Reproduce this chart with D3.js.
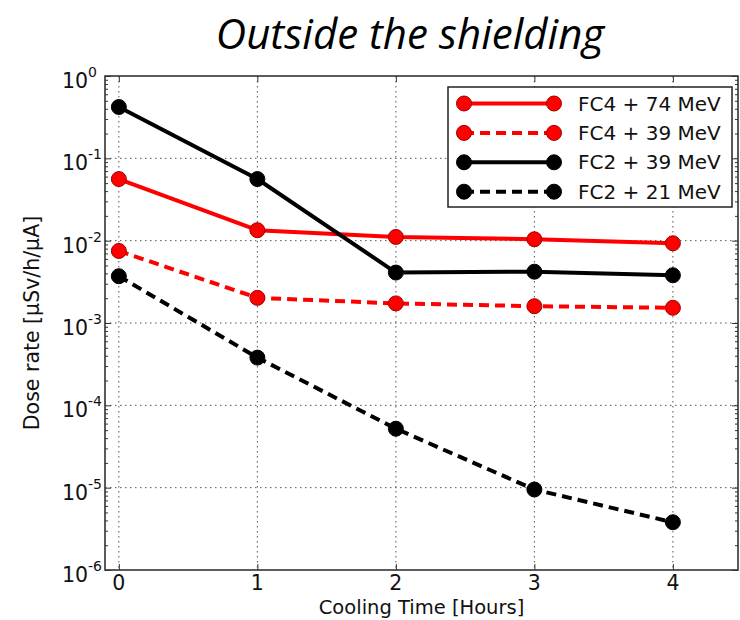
<!DOCTYPE html>
<html>
<head>
<meta charset="utf-8">
<script src="https://cdn.jsdelivr.net/npm/d3@7"></script>
<style>
  body { margin: 0; background: #fff; }
  text { font-family: "DejaVu Sans", sans-serif; fill: #111; }
</style>
</head>
<body>
<div class="chart"></div>
<script>
// cooling time (hours) and dose rate per series
var hours = [0, 1, 2, 3, 4];
var fc4_74 = [0.056, 0.0134, 0.0111, 0.0104, 0.0093];
var fc4_39 = [0.0075, 0.00202, 0.00173, 0.0016, 0.00153];
var fc2_39 = [0.42, 0.056, 0.0041, 0.0042, 0.0038];
var fc2_21 = [0.0037, 0.00038, 0.000052, 0.0000095, 0.0000038];
var seriesNames = ["FC4 + 74 MeV", "FC4 + 39 MeV", "FC2 + 39 MeV", "FC2 + 21 MeV"];
var decades = [-6, -5, -4, -3, -2, -1, 0];
var xTicks = [0, 1, 2, 3, 4];

var series = [
  {name: seriesNames[0], values: fc4_74, color: "#ff0000", edge: "#a00000", dash: null},
  {name: seriesNames[1], values: fc4_39, color: "#ff0000", edge: "#a00000", dash: "10,6"},
  {name: seriesNames[2], values: fc2_39, color: "#000000", edge: "#000000", dash: null},
  {name: seriesNames[3], values: fc2_21, color: "#000000", edge: "#000000", dash: "10,6"}
];

var W = 740, H = 620;
var pLeft = 105, pRight = 738, pTop = 76, pBottom = 570;

var svg = d3.select(".chart").append("svg")
  .attr("width", W)
  .attr("height", H);

var x = d3.scaleLinear().domain([-0.1, 4.47]).range([pLeft, pRight]);
var y = d3.scaleLog().domain([1e-6, 1]).range([pBottom, pTop]);

// grid
svg.append("g").selectAll("line").data(xTicks).enter().append("line")
  .attr("x1", function(d) { return x(d); }).attr("x2", function(d) { return x(d); })
  .attr("y1", pTop).attr("y2", pBottom)
  .attr("stroke", "#555").attr("stroke-width", 1).attr("stroke-dasharray", "1.5,3.5");
svg.append("g").selectAll("line").data(decades.slice(1, -1)).enter().append("line")
  .attr("x1", pLeft).attr("x2", pRight)
  .attr("y1", function(d) { return y(Math.pow(10, d)); }).attr("y2", function(d) { return y(Math.pow(10, d)); })
  .attr("stroke", "#555").attr("stroke-width", 1).attr("stroke-dasharray", "1.5,3.5");

// minor ticks on the log axis
var minors = [];
decades.slice(0, -1).forEach(function(e) {
  for (var k = 2; k <= 9; k++) minors.push(k * Math.pow(10, e));
});
var majors = decades.map(function(e) { return Math.pow(10, e); });

function styleAxis(g) {
  g.select(".domain").remove();
  g.selectAll("line").attr("stroke", "#333").attr("stroke-width", 1);
  g.selectAll("text").remove();
}

svg.append("g").attr("transform", "translate(" + pLeft + ",0)")
  .call(d3.axisLeft(y).tickValues(majors).tickSize(-6)).call(styleAxis);
svg.append("g").attr("transform", "translate(" + pLeft + ",0)")
  .call(d3.axisLeft(y).tickValues(minors).tickSize(-3)).call(styleAxis);
svg.append("g").attr("transform", "translate(" + pRight + ",0)")
  .call(d3.axisRight(y).tickValues(majors).tickSize(-6)).call(styleAxis);
svg.append("g").attr("transform", "translate(" + pRight + ",0)")
  .call(d3.axisRight(y).tickValues(minors).tickSize(-3)).call(styleAxis);
svg.append("g").attr("transform", "translate(0," + pBottom + ")")
  .call(d3.axisBottom(x).tickValues(xTicks).tickSize(-6)).call(styleAxis);
svg.append("g").attr("transform", "translate(0," + pTop + ")")
  .call(d3.axisTop(x).tickValues(xTicks).tickSize(-6)).call(styleAxis);

// frame
svg.append("rect")
  .attr("x", pLeft).attr("y", pTop)
  .attr("width", pRight - pLeft).attr("height", pBottom - pTop)
  .attr("fill", "none").attr("stroke", "#333").attr("stroke-width", 1.6);

// y tick labels 10^n
svg.append("g").selectAll("text").data(decades).enter().append("text")
  .attr("x", 88).attr("y", function(d) { return y(Math.pow(10, d)) + 12; })
  .attr("text-anchor", "end")
  .style("font-size", "20.5px")
  .text("10");
svg.append("g").selectAll("text").data(decades).enter().append("text")
  .attr("x", 88).attr("y", function(d) { return y(Math.pow(10, d)) + 1; })
  .style("font-size", "14px")
  .text(function(d) { return d === 0 ? "0" : "-" + Math.abs(d); });

// x tick labels
svg.append("g").selectAll("text").data(xTicks).enter().append("text")
  .attr("x", function(d) { return x(d); }).attr("y", 590)
  .attr("text-anchor", "middle")
  .style("font-size", "20.5px")
  .text(function(d) { return d; });

// axis titles
svg.append("text")
  .attr("x", (pLeft + pRight) / 2).attr("y", 614)
  .attr("text-anchor", "middle")
  .style("font-size", "19.5px")
  .text("Cooling Time [Hours]");
svg.append("text")
  .attr("transform", "translate(39," + ((pTop + pBottom) / 2) + ") rotate(-90)")
  .attr("text-anchor", "middle")
  .style("font-size", "20.5px")
  .text("Dose rate [\u00b5Sv/h/\u00b5A]");

// title
svg.append("text")
  .attr("x", 410).attr("y", 49)
  .attr("text-anchor", "middle")
  .style("font-family", "'Open Sans', sans-serif")
  .style("font-style", "italic")
  .style("font-size", "42px")
  .style("fill", "#000")
  .text("Outside the shielding");

// series
var line = d3.line()
  .x(function(d, i) { return x(hours[i]); })
  .y(function(d) { return y(d); });

series.forEach(function(s) {
  svg.append("path")
    .attr("d", line(s.values))
    .attr("fill", "none")
    .attr("stroke", s.color)
    .attr("stroke-width", 4)
    .attr("stroke-dasharray", s.dash);
  svg.append("g").selectAll("circle").data(s.values).enter().append("circle")
    .attr("cx", function(d, i) { return x(hours[i]); })
    .attr("cy", function(d) { return y(d); })
    .attr("r", 7.5)
    .attr("fill", s.color)
    .attr("stroke", s.edge)
    .attr("stroke-width", 1);
});

// legend
var lg = svg.append("g");
lg.append("rect")
  .attr("x", 448).attr("y", 87).attr("width", 284).attr("height", 120)
  .attr("fill", "#fff").attr("stroke", "#222").attr("stroke-width", 1.5);
series.forEach(function(s, i) {
  var ly = 103.5 + i * 29.4;
  lg.append("line")
    .attr("x1", 464).attr("x2", 554).attr("y1", ly).attr("y2", ly)
    .attr("stroke", s.color).attr("stroke-width", 4)
    .attr("stroke-dasharray", s.dash);
  [464, 554].forEach(function(cx) {
    lg.append("circle")
      .attr("cx", cx).attr("cy", ly).attr("r", 7.5)
      .attr("fill", s.color).attr("stroke", s.edge).attr("stroke-width", 1);
  });
  lg.append("text")
    .attr("x", 578).attr("y", ly + 7)
    .style("font-size", "20px")
    .text(s.name);
});
</script>
</body>
</html>
